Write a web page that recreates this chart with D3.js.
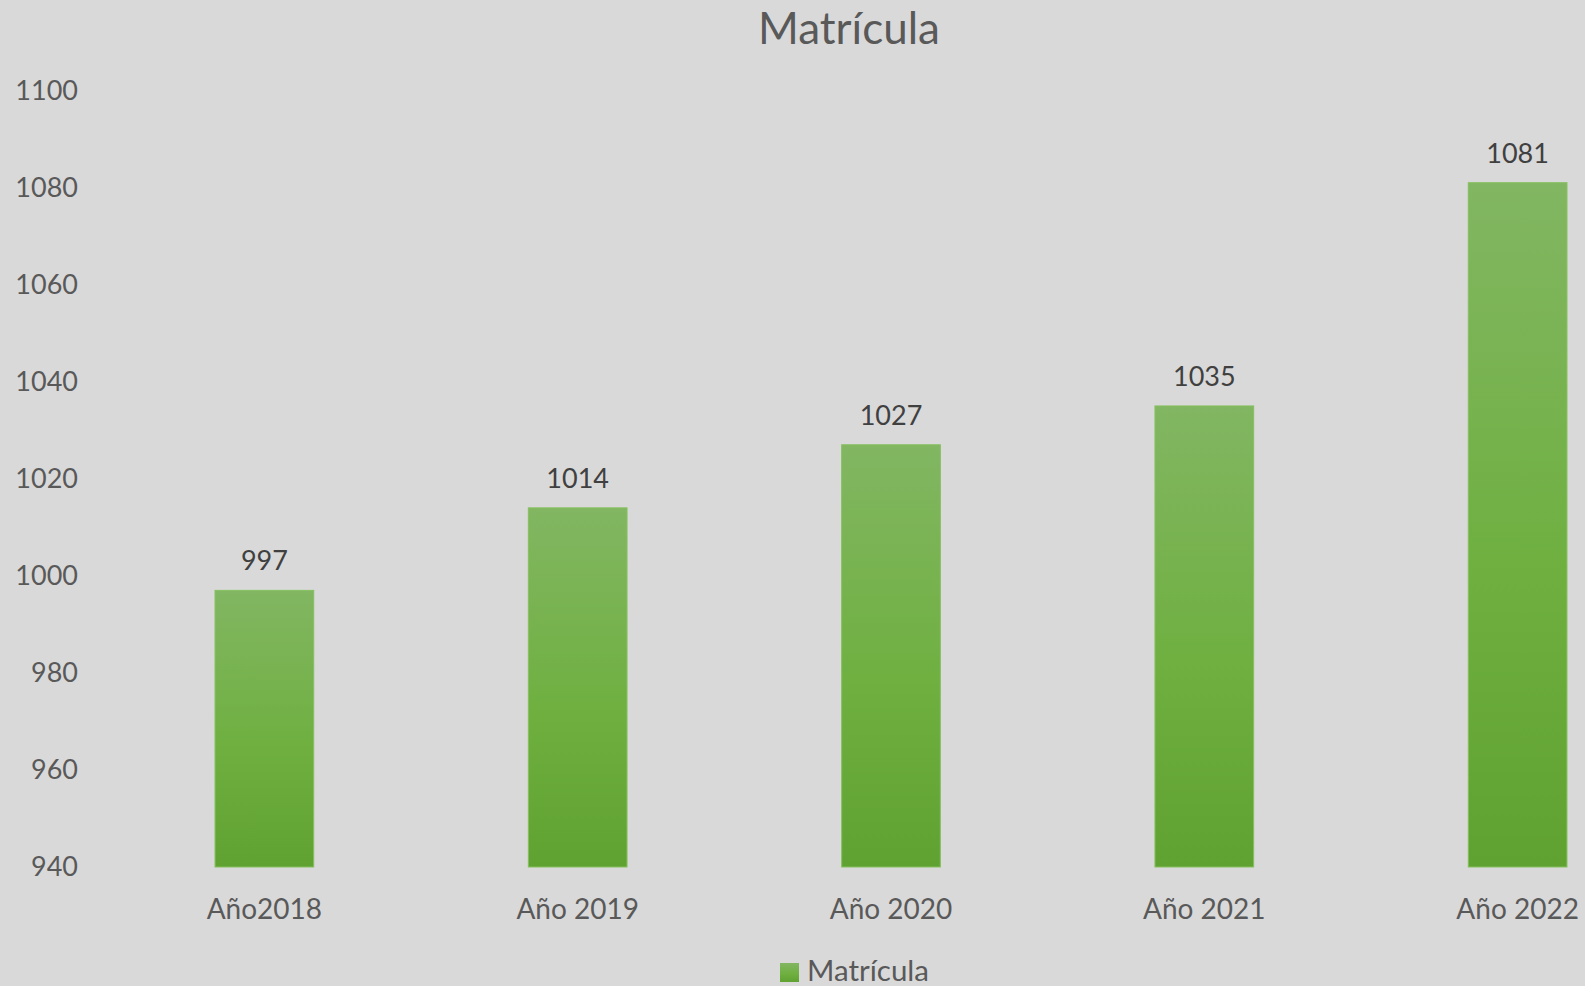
<!DOCTYPE html>
<html>
<head>
<meta charset="utf-8">
<script src="https://cdn.jsdelivr.net/npm/d3@7"></script>
<style>
  html, body { margin: 0; padding: 0; background: #d9d9d9; overflow: hidden; }
  svg { display: block; font-family: Lato, "Open Sans", sans-serif; }
</style>
</head>
<body>
<div id="chart"></div>
<script>
// datos de matrícula
const years = ['Año2018', 'Año 2019', 'Año 2020', 'Año 2021', 'Año 2022'];
const matricula = [997, 1014, 1027, 1035, 1081];
const yTicks = [940, 960, 980, 1000, 1020, 1040, 1060, 1080, 1100];

const width = 1585, height = 986;

const svg = d3.select('#chart')
  .append('svg')
  .attr('width', width)
  .attr('height', height);

svg.append('rect')
  .attr('width', width)
  .attr('height', height)
  .attr('fill', '#d9d9d9');

// degradado de las barras
const grad = svg.append('defs').append('linearGradient')
  .attr('id', 'barGrad')
  .attr('x1', 0).attr('y1', 0).attr('x2', 0).attr('y2', 1);
grad.append('stop').attr('offset', '0%').attr('stop-color', '#82b662');
grad.append('stop').attr('offset', '55%').attr('stop-color', '#6fb041');
grad.append('stop').attr('offset', '100%').attr('stop-color', '#60a232');

// escalas (el área del gráfico se sale por la derecha, como en el original)
const x = d3.scaleBand()
  .domain(years)
  .range([108.5, 1673.5])
  .paddingInner(0.685)
  .paddingOuter(0.34);

const y = d3.scaleLinear()
  .domain([940, 1100])
  .range([867, 90.5]);

// título
svg.append('text')
  .attr('x', 849)
  .attr('y', 44)
  .attr('text-anchor', 'middle')
  .attr('font-size', 44)
  .attr('fill', '#595959')
  .text('Matrícula');

// eje Y
const yAxis = svg.append('g')
  .attr('transform', 'translate(78,0)')
  .call(d3.axisLeft(y).tickValues(yTicks).tickFormat(d3.format('d')).tickSize(0).tickPadding(0));
yAxis.select('.domain').remove();
yAxis.selectAll('text')
  .attr('font-size', 27)
  .attr('fill', '#595959')
  .attr('font-family', 'Lato, "Open Sans", sans-serif');

// eje X
const xAxis = svg.append('g')
  .attr('transform', 'translate(0,867)')
  .call(d3.axisBottom(x).tickSize(0).tickPadding(0));
xAxis.select('.domain').remove();
xAxis.selectAll('text')
  .attr('dy', null)
  .attr('y', 52)
  .attr('font-size', 28)
  .attr('fill', '#595959')
  .attr('font-family', 'Lato, "Open Sans", sans-serif');

// barras
svg.append('g')
  .selectAll('rect')
  .data(matricula)
  .enter()
  .append('rect')
  .attr('x', (d, i) => x(years[i]))
  .attr('y', d => y(d))
  .attr('width', x.bandwidth())
  .attr('height', d => y(940) - y(d))
  .attr('fill', 'url(#barGrad)')
  .attr('stroke', '#85c05e')
  .attr('stroke-width', 1);

// etiquetas de datos
svg.append('g')
  .selectAll('text')
  .data(matricula)
  .enter()
  .append('text')
  .attr('x', (d, i) => x(years[i]) + x.bandwidth() / 2)
  .attr('y', d => y(d) - 20)
  .attr('text-anchor', 'middle')
  .attr('font-size', 27)
  .attr('fill', '#404040')
  .text(d => d);

// leyenda
const legend = svg.append('g');
legend.append('rect')
  .attr('x', 780)
  .attr('y', 963)
  .attr('width', 19)
  .attr('height', 19)
  .attr('fill', 'url(#barGrad)');
legend.append('text')
  .attr('x', 807)
  .attr('y', 981)
  .attr('font-size', 29.5)
  .attr('fill', '#595959')
  .text('Matrícula');
</script>
</body>
</html>
